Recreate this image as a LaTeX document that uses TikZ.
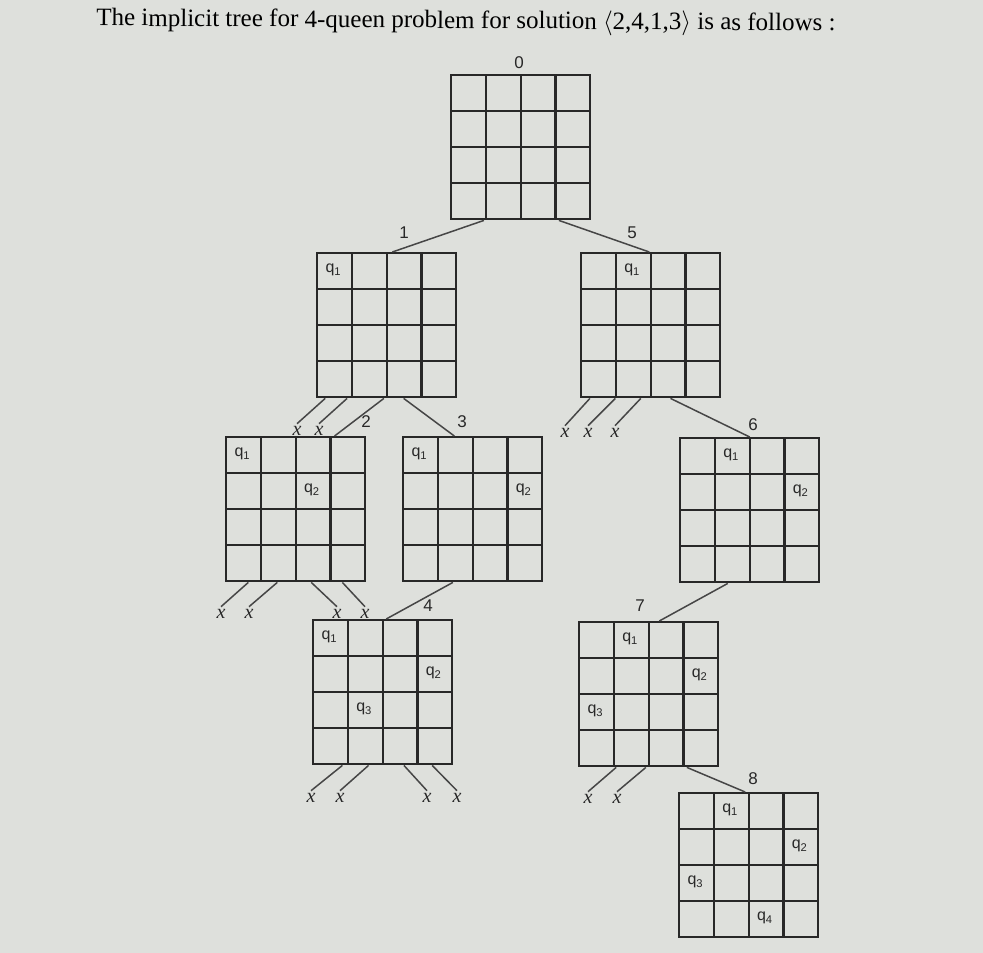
\documentclass[tikz,border=0pt]{standalone}
\usepackage{fontspec}
\setmainfont{Liberation Serif}
\setsansfont{Liberation Sans}
\usetikzlibrary{calc}
\definecolor{paper}{RGB}{222,224,220}
\definecolor{ink}{RGB}{40,40,40}
\definecolor{wire}{RGB}{70,70,70}
\tikzset{
  board/.style={draw=ink, line width=2.4pt, minimum width=139pt, minimum height=144pt,
    inner sep=0pt, anchor=north west,
    path picture={
      \foreach \i in {1,2,3}{
        \draw[ink, line width=2.4pt]
          ($(path picture bounding box.north west)!\i/4!(path picture bounding box.north east)$) --
          ($(path picture bounding box.south west)!\i/4!(path picture bounding box.south east)$);
        \draw[ink, line width=2.4pt]
          ($(path picture bounding box.north west)!\i/4!(path picture bounding box.south west)$) --
          ($(path picture bounding box.north east)!\i/4!(path picture bounding box.south east)$);
      }}},
  qlab/.style={font=\fontsize{16}{16}\selectfont\sffamily, text=ink, inner sep=0pt},
  numlab/.style={font=\fontsize{17}{17}\selectfont\sffamily, text=ink, inner sep=0pt},
  xmark/.style={font=\fontsize{20}{20}\selectfont\itshape, text=ink, inner sep=2.5pt},
  conn/.style={draw=wire, line width=1.5pt},
}
\newcommand\queen[5]{\node[qlab] (#1) at ($(#2.north west)+({(#3+0.5)*34.75},{(#4+0.5)*36})$) {q\textsubscript{#5}};}
\newcommand\xfrom[4]{\node[xmark] (#1) at (#3) {x};
  \draw[conn] ($(#2.south west)!#4!(#2.south east)$) -- (#1.north);}
\newcommand\edge[4]{\draw[conn] ($(#1.south west)!#3!(#1.south east)$) -- ($(#2.north west)!#4!(#2.north east)$);}
\begin{document}
\begin{tikzpicture}[x=1pt,y=-1pt]
\fill[paper] (0,0) rectangle (983,953);
\useasboundingbox (0,0) rectangle (983,953);

\node[font=\fontsize{25}{25}\selectfont, text=black, rotate=-0.4] (title) at (466,22)
  {The implicit tree for 4-queen problem for solution $\langle$2,4,1,3$\rangle$ is as follows :};

% boards
\node[board] (b0) at (450,74) {};
\node[board] (b1) at (316,252) {};
\node[board] (b5) at (580,252) {};
\node[board] (b2) at (225,436) {};
\node[board] (b3) at (402,436) {};
\node[board] (b6) at (679,437) {};
\node[board] (b4) at (312,619) {};
\node[board] (b7) at (578,621) {};
\node[board] (b8) at (678,792) {};

% numbers
\node[numlab] (n0) at (519,63) {0};
\node[numlab] (n1) at (404,233) {1};
\node[numlab] (n5) at (632,233) {5};
\node[numlab] (n2) at (366,422) {2};
\node[numlab] (n3) at (462,422) {3};
\node[numlab] (n6) at (753,425) {6};
\node[numlab] (n4) at (428,606) {4};
\node[numlab] (n7) at (640,606) {7};
\node[numlab] (n8) at (753,779) {8};

% queens
\queen{q1a}{b1}{0}{0}{1}
\queen{q5a}{b5}{1}{0}{1}
\queen{q2a}{b2}{0}{0}{1}
\queen{q2b}{b2}{2}{1}{2}
\queen{q3a}{b3}{0}{0}{1}
\queen{q3b}{b3}{3}{1}{2}
\queen{q6a}{b6}{1}{0}{1}
\queen{q6b}{b6}{3}{1}{2}
\queen{q4a}{b4}{0}{0}{1}
\queen{q4b}{b4}{3}{1}{2}
\queen{q4c}{b4}{1}{2}{3}
\queen{q7a}{b7}{1}{0}{1}
\queen{q7b}{b7}{3}{1}{2}
\queen{q7c}{b7}{0}{2}{3}
\queen{q8a}{b8}{1}{0}{1}
\queen{q8b}{b8}{3}{1}{2}
\queen{q8c}{b8}{0}{2}{3}
\queen{q8d}{b8}{2}{3}{4}

% tree edges
\edge{b0}{b1}{0.24}{0.54}
\edge{b0}{b5}{0.77}{0.49}
\edge{b1}{b2}{0.48}{0.775}
\edge{b1}{b3}{0.62}{0.37}
\edge{b5}{b6}{0.64}{0.5}
\edge{b3}{b4}{0.36}{0.525}
\edge{b6}{b7}{0.345}{0.575}
\edge{b7}{b8}{0.77}{0.475}

% dead ends
\xfrom{x1a}{b1}{297,431}{0.065}
\xfrom{x1b}{b1}{319,431}{0.22}
\xfrom{x5a}{b5}{565,433}{0.07}
\xfrom{x5b}{b5}{588,433}{0.25}
\xfrom{x5c}{b5}{615,433}{0.43}
\xfrom{x2a}{b2}{221,614}{0.165}
\xfrom{x2b}{b2}{249,614}{0.37}
\xfrom{x2c}{b2}{337,614}{0.61}
\xfrom{x2d}{b2}{365,614}{0.83}
\xfrom{x4a}{b4}{311,798}{0.215}
\xfrom{x4b}{b4}{340,798}{0.40}
\xfrom{x4c}{b4}{427,798}{0.65}
\xfrom{x4d}{b4}{457,798}{0.85}
\xfrom{x7a}{b7}{588,799}{0.27}
\xfrom{x7b}{b7}{617,799}{0.48}
\end{tikzpicture}
\end{document}
